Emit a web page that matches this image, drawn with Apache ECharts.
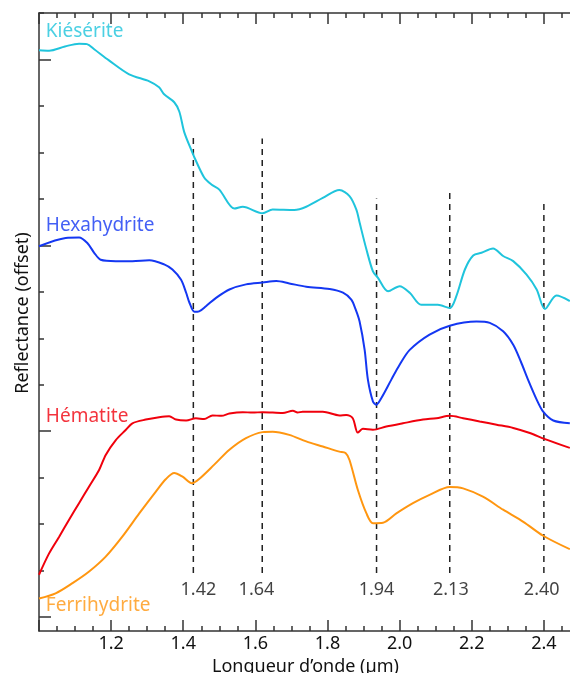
<!DOCTYPE html>
<html>
<head>
<meta charset="utf-8">
<script src="https://cdn.jsdelivr.net/npm/echarts@6/dist/echarts.min.js"></script>
<style>
html, body { margin: 0; padding: 0; background: #fff; }
#chart { width: 570px; height: 673px; }
</style>
</head>
<body>
<div id="chart"></div>
<script>
// spectres : longueur d'onde (µm) / réflectance décalée
var kieseriteX = [1.000, 1.028, 1.072, 1.111, 1.133, 1.153, 1.194, 1.250, 1.306, 1.333, 1.347, 1.375, 1.389, 1.403, 1.425, 1.431, 1.458, 1.478, 1.500, 1.542, 1.565, 1.620, 1.648, 1.708, 1.741, 1.787, 1.833, 1.861, 1.880, 1.889, 1.908, 1.926, 1.940, 1.968, 2.000, 2.028, 2.060, 2.106, 2.139, 2.157, 2.181, 2.204, 2.227, 2.259, 2.287, 2.315, 2.352, 2.380, 2.403, 2.435, 2.472];
var kieseriteY = [12.20, 12.19, 12.28, 12.34, 12.33, 12.22, 11.98, 11.68, 11.53, 11.40, 11.25, 11.08, 10.88, 10.43, 10.00, 9.89, 9.46, 9.31, 9.20, 8.79, 8.83, 8.69, 8.77, 8.76, 8.83, 9.02, 9.19, 9.06, 8.77, 8.49, 7.91, 7.44, 7.30, 7.01, 7.12, 6.98, 6.72, 6.72, 6.65, 6.90, 7.48, 7.78, 7.84, 7.93, 7.77, 7.66, 7.37, 7.05, 6.63, 6.92, 6.80];

var hexahydriteX = [1.000, 1.074, 1.111, 1.134, 1.153, 1.171, 1.213, 1.259, 1.306, 1.347, 1.370, 1.394, 1.408, 1.417, 1.431, 1.444, 1.463, 1.491, 1.528, 1.574, 1.620, 1.658, 1.694, 1.741, 1.806, 1.843, 1.866, 1.878, 1.889, 1.903, 1.912, 1.926, 1.935, 1.949, 1.977, 2.000, 2.028, 2.083, 2.139, 2.213, 2.250, 2.287, 2.315, 2.336, 2.356, 2.380, 2.398, 2.426, 2.472];
var hexahydriteY = [7.98, 8.16, 8.17, 8.05, 7.84, 7.69, 7.66, 7.66, 7.68, 7.59, 7.48, 7.26, 6.98, 6.77, 6.57, 6.58, 6.69, 6.87, 7.05, 7.16, 7.20, 7.23, 7.18, 7.11, 7.06, 6.98, 6.83, 6.62, 6.36, 5.75, 5.11, 4.64, 4.57, 4.71, 5.11, 5.43, 5.75, 6.08, 6.27, 6.36, 6.33, 6.15, 5.86, 5.50, 5.11, 4.68, 4.42, 4.23, 4.17];

var hematiteX = [1.000, 1.028, 1.056, 1.083, 1.111, 1.139, 1.167, 1.185, 1.213, 1.241, 1.259, 1.296, 1.333, 1.361, 1.380, 1.408, 1.435, 1.458, 1.481, 1.506, 1.528, 1.565, 1.592, 1.620, 1.676, 1.704, 1.717, 1.731, 1.787, 1.833, 1.852, 1.870, 1.884, 1.898, 1.926, 1.963, 2.009, 2.065, 2.102, 2.139, 2.176, 2.222, 2.269, 2.315, 2.361, 2.403, 2.472];
var hematiteY = [0.91, 1.37, 1.73, 2.09, 2.45, 2.81, 3.17, 3.49, 3.81, 4.03, 4.17, 4.25, 4.30, 4.32, 4.25, 4.23, 4.28, 4.26, 4.34, 4.33, 4.38, 4.41, 4.40, 4.41, 4.39, 4.44, 4.40, 4.42, 4.42, 4.34, 4.35, 4.28, 3.97, 4.05, 4.03, 4.10, 4.17, 4.25, 4.28, 4.33, 4.28, 4.21, 4.14, 4.07, 3.96, 3.83, 3.64];

var ferrihydriteX = [1.000, 1.046, 1.093, 1.139, 1.185, 1.231, 1.278, 1.324, 1.352, 1.375, 1.398, 1.424, 1.444, 1.486, 1.528, 1.574, 1.620, 1.648, 1.694, 1.741, 1.787, 1.833, 1.850, 1.861, 1.884, 1.908, 1.926, 1.954, 1.991, 2.037, 2.083, 2.139, 2.176, 2.231, 2.287, 2.343, 2.398, 2.472];
var ferrihydriteY = [0.40, 0.51, 0.73, 0.98, 1.30, 1.73, 2.23, 2.70, 2.97, 3.10, 3.02, 2.88, 2.97, 3.28, 3.60, 3.85, 3.98, 3.99, 3.92, 3.78, 3.67, 3.56, 3.53, 3.38, 2.74, 2.23, 2.02, 2.03, 2.23, 2.45, 2.63, 2.80, 2.77, 2.59, 2.31, 2.05, 1.75, 1.46];

// bandes d'absorption (traits pointillés)
var peakPos = [1.428, 1.619, 1.936, 2.139, 2.400];
var peakTop = [10.37, 10.30, 9.01, 9.14, 8.92];
var peakBottom = 0.95;
var peakText = ['1.42', '1.64', '1.94', '2.13', '2.40'];
var peakTextX = [1.442, 1.603, 1.936, 2.142, 2.394];
var peakTextY = 0.58;

var mineralNames = ['Kiésérite', 'Hexahydrite', 'Hématite', 'Ferrihydrite'];
var mineralNameY = [12.61, 8.43, 4.31, 0.24];
var mineralNameX = 1.019;
var colors = ['#1fc4dc', '#1437f2', '#f0000c', '#ff9610'];

var yMajorTicks = [0, 4, 8, 12];
var yMinorTicks = [0, 1, 2, 3, 4, 5, 6, 7, 8, 9, 10, 11, 12, 13];

function pairs(xs, ys) {
	var out = [];
	for (var i = 0; i < xs.length; i++) out.push([xs[i], ys[i]]);
	return out;
}

var chart = echarts.init(document.getElementById('chart'));
var axisColor = '#333';
var font = 'Noto Sans';

var spectra = [
	pairs(kieseriteX, kieseriteY),
	pairs(hexahydriteX, hexahydriteY),
	pairs(hematiteX, hematiteY),
	pairs(ferrihydriteX, ferrihydriteY)
];

var series = [];
// traits verticaux
for (var p = 0; p < peakPos.length; p++) {
	series.push({
		type: 'line',
		data: [[peakPos[p], peakBottom], [peakPos[p], peakTop[p]]],
		symbol: 'none',
		silent: true,
		lineStyle: { color: '#222', width: 1.5, type: [6, 5] },
		z: 1
	});
}
// spectres
for (var s = 0; s < spectra.length; s++) {
	series.push({
		type: 'line',
		name: mineralNames[s],
		data: spectra[s],
		symbol: 'none',
		smooth: 0.3,
		lineStyle: { color: colors[s], width: 2 },
		z: 3
	});
}
// libellés des bandes
series.push({
	type: 'scatter',
	symbolSize: 0,
	silent: true,
	data: peakTextX.map(function (x, i) { return [x, peakTextY, peakText[i]]; }),
	label: {
		show: true,
		position: 'inside',
		formatter: function (d) { return d.value[2]; },
		color: '#111',
		fontFamily: font,
		fontSize: 18
	}
});
// noms des minéraux
series.push({
	type: 'scatter',
	symbolSize: 0,
	silent: true,
	data: mineralNames.map(function (n, i) {
		return {
			value: [mineralNameX, mineralNameY[i], n],
			label: { color: colors[i] }
		};
	}),
	label: {
		show: true,
		position: 'right',
		distance: 0,
		formatter: function (d) { return d.value[2]; },
		fontFamily: font,
		fontSize: 19
	}
});

var option = {
	animation: false,
	grid: { left: 39, right: -46, top: 13, bottom: 42, containLabel: false, outerBoundsMode: 'none' },
	xAxis: [{
		type: 'value',
		position: 'bottom',
		min: 1.0,
		max: 2.6,
		interval: 0.2,
		name: 'Longueur d’onde (µm)',
		nameLocation: 'middle',
		nameGap: 18,
		nameTextStyle: { color: '#111', fontFamily: font, fontSize: 18, padding: [0, 44, 0, 0] },
		axisLine: { onZero: false, lineStyle: { color: axisColor, width: 1.5 } },
		axisTick: { inside: true, length: 11, lineStyle: { color: axisColor, width: 1.5 } },
		minorTick: { show: true, splitNumber: 4, length: 5, lineStyle: { color: axisColor, width: 1.5 } },
		axisLabel: {
			color: '#111', fontFamily: font, fontSize: 18, margin: 4,
			showMinLabel: false,
			formatter: function (v) { return v.toFixed(1); }
		},
		splitLine: { show: false }
	}, {
		type: 'value',
		position: 'top',
		min: 1.0,
		max: 2.6,
		interval: 0.2,
		axisLine: { onZero: false, lineStyle: { color: axisColor, width: 1.5 } },
		axisTick: { inside: true, length: 11, lineStyle: { color: axisColor, width: 1.5 } },
		minorTick: { show: true, splitNumber: 4, length: 5, lineStyle: { color: axisColor, width: 1.5 } },
		axisLabel: { show: false },
		splitLine: { show: false }
	}],
	yAxis: [{
		type: 'value',
		position: 'left',
		min: -0.3,
		max: 13,
		name: 'Reflectance (offset)',
		nameLocation: 'middle',
		nameGap: 7,
		nameTextStyle: { color: '#111', fontFamily: font, fontSize: 18, padding: [0, 0, 0, 18] },
		axisLine: { show: true, onZero: false, lineStyle: { color: axisColor, width: 1.5 } },
		axisTick: { show: true, inside: true, length: 5, customValues: yMinorTicks, lineStyle: { color: axisColor, width: 1.5 } },
		axisLabel: { show: false },
		splitLine: { show: false }
	}, {
		type: 'value',
		position: 'left',
		min: -0.3,
		max: 13,
		axisLine: { show: false, onZero: false },
		axisTick: { show: true, inside: true, length: 12, customValues: yMajorTicks, lineStyle: { color: axisColor, width: 1.5 } },
		axisLabel: { show: false },
		splitLine: { show: false }
	}],
	series: series
};
chart.setOption(option);
</script>
</body>
</html>
